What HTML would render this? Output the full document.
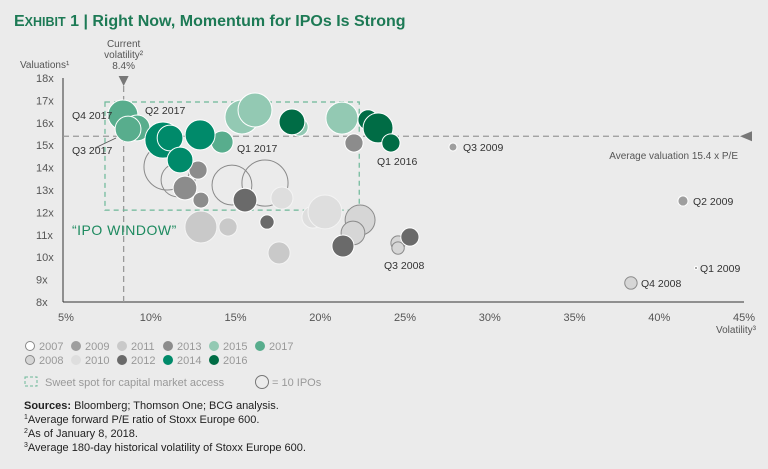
<!DOCTYPE html>
<html><head><meta charset="utf-8">
<style>
html,body{margin:0;padding:0;background:#ebebeb;}
body{width:768px;height:464px;overflow:hidden;position:relative;font-family:"Liberation Sans",sans-serif;}
svg text{font-family:"Liberation Sans",sans-serif;}
</style></head>
<body>
<svg id="chart" width="768" height="464" viewBox="0 0 768 464" xmlns="http://www.w3.org/2000/svg">
<text x="14" y="26" font-size="16" font-weight="bold" fill="#1d7a55">E<tspan font-size="12.5">XHIBIT</tspan> 1 | Right Now, Momentum for IPOs Is Strong</text>
<g id="axes"></g>
<g id="marks"></g>
<g id="labels"></g>
<g id="legend"></g>
<g font-size="11" fill="#222">
<text x="24" y="409"><tspan font-weight="bold">Sources:</tspan> Bloomberg; Thomson One; BCG analysis.</text>
<text x="24" y="423"><tspan font-size="7" dy="-4">1</tspan><tspan dy="4">Average forward P/E ratio of Stoxx Europe 600.</tspan></text>
<text x="24" y="437"><tspan font-size="7" dy="-4">2</tspan><tspan dy="4">As of January 8, 2018.</tspan></text>
<text x="24" y="451"><tspan font-size="7" dy="-4">3</tspan><tspan dy="4">Average 180-day historical volatility of Stoxx Europe 600.</tspan></text>
</g>
</svg>
<script>
const xTicks=[5,10,15,20,25,30,35,40,45];
const yTicks=[8,9,10,11,12,13,14,15,16,17,18];
const bubbleYears=[2007,2007,2007,2007,2008,2008,2008,2008,2008,2010,2010,2010,2011,2011,2011,2012,2012,2012,2012,2012,2013,2013,2013,2013,2013,2013,2009,2009,2009,2015,2015,2015,2015,2016,2016,2016,2016,2016,2017,2017,2017,2017,2014,2014,2014,2014];
const bubbleX=[10.96,11.61,14.79,16.74,22.35,21.93,24.59,38.33,24.59,17.74,19.57,20.28,12.96,14.56,17.57,15.56,16.86,21.34,25.29,15.56,12.73,12.79,12.02,12.96,21.99,12.73,27.83,41.40,42.17,15.38,16.15,18.75,21.28,18.33,22.82,23.41,24.17,18.33,8.36,9.19,8.66,14.21,10.72,11.14,11.73,12.91];
const bubbleY=[14.03,13.45,13.22,13.31,11.66,11.08,10.63,8.85,10.41,12.64,11.79,12.02,11.35,11.35,10.19,12.55,11.57,10.50,10.90,12.55,15.46,13.89,13.09,12.55,15.10,15.46,14.92,12.51,9.52,16.26,16.57,15.81,16.21,16.04,16.13,15.77,15.10,16.04,16.35,15.77,15.72,15.14,15.23,15.32,14.34,15.46];
const bubbleIPOs=[83,45,62,83,35,22,8,6,6,19,19,45,40,13,19,22,8,19,13,22,16,13,22,10,13,16,2.5,4,0.4,45,45,13,40,26,16,35,13,26,35,26,26,19,51,26,26,35];
const yearColors={2007:['none','#8a8a8a'],2008:['#d6d6d6','#8a8a8a'],2009:['#9e9e9e','#fff'],2010:['#dedede','#f4f4f4'],2011:['#c9c9c9','#f4f4f4'],2012:['#6a6a6a','#fff'],2013:['#8c8c8c','#fff'],2014:['#008a6a','#fff'],2015:['#93c9b3','#fff'],2016:['#006c45','#fff'],2017:['#58ad8d','#fff']};
const avgVal=15.4, curVol=8.4, sweet={x0:7.3,x1:22.3,y0:12.1,y1:16.93};
const NS='http://www.w3.org/2000/svg';
const xS=v=>66+(v-5)*(744-66)/40;
const yS=v=>302-(v-8)*(302-78)/10;
const rS=n=>8*Math.sqrt(n/10);
function mk(tag,attrs,parent,txt){const e=document.createElementNS(NS,tag);for(const k in attrs)e.setAttribute(k,attrs[k]);if(txt!==undefined)e.textContent=txt;parent.appendChild(e);return e;}
const axes=document.getElementById('axes');
let e;
e=mk('line',{x1:63,y1:xS(0)*0+78,x2:63,y2:302,stroke:'#333','stroke-width':1},axes);


e=mk('line',{x1:63,y1:302,x2:744,y2:302,stroke:'#333','stroke-width':1},axes);


xTicks.forEach(t=>{e=mk('text',{x:xS(t),y:321,'font-size':11,fill:'#555','text-anchor':'middle'},axes,t+'%');

});
yTicks.forEach(t=>{e=mk('text',{x:36,y:yS(t)+4,'font-size':11,fill:'#555'},axes,t+'x');

});
e=mk('text',{x:20,y:68,'font-size':10,fill:'#555'},axes,'Valuations¹');


e=mk('text',{x:756,y:333,'font-size':10,fill:'#555','text-anchor':'end'},axes,'Volatility³');


// reference lines
e=mk('line',{x1:63,y1:yS(avgVal),x2:742,y2:yS(avgVal),stroke:'#999','stroke-width':1.3,'stroke-dasharray':'6,4'},axes);


e=mk('polygon',{points:`740,${yS(avgVal)} 752,${yS(avgVal)-5} 752,${yS(avgVal)+5}`,fill:'#777'},axes);


e=mk('line',{x1:xS(curVol),y1:86,x2:xS(curVol),y2:302,stroke:'#999','stroke-width':1.3,'stroke-dasharray':'6,4'},axes);


e=mk('polygon',{points:`${xS(curVol)-5},76 ${xS(curVol)+5},76 ${xS(curVol)},86`,fill:'#777'},axes);


[['Current',47],['volatility²',58],['8.4%',69]].forEach(a=>{e=mk('text',{x:xS(curVol),y:a[1],'font-size':10,fill:'#555','text-anchor':'middle'},axes,a[0]);

});
e=mk('rect',{x:xS(sweet.x0),y:yS(sweet.y1),width:xS(sweet.x1)-xS(sweet.x0),height:yS(sweet.y0)-yS(sweet.y1),fill:'none',stroke:'#6cb898','stroke-width':1.2,'stroke-dasharray':'5,4'},axes);


// bubbles
const marks=document.getElementById('marks');
bubbleX.forEach((x,i)=>{const c=yearColors[bubbleYears[i]];
e=mk('circle',{cx:xS(x),cy:yS(bubbleY[i]),r:rS(bubbleIPOs[i]),fill:c[0],stroke:c[1],'stroke-width':1},marks);

});
// labels
const labels=document.getElementById('labels');
const ann=[['Q4 2017',72,119],['Q2 2017',145,114],['Q3 2017',72,154],['Q1 2017',237,152],['Q1 2016',377,165],['Q3 2009',463,151],['Q2 2009',693,205],['Q1 2009',700,272],['Q4 2008',641,287],['Q3 2008',384,269]];
ann.forEach(a=>{e=mk('text',{x:a[1],y:a[2],'font-size':10.5,fill:'#333'},labels,a[0]);

});
e=mk('line',{x1:95,y1:148,x2:116,y2:138,stroke:'#555','stroke-width':0.8},labels);


e=mk('text',{x:738,y:159,'font-size':10,fill:'#555','text-anchor':'end'},labels,'Average valuation 15.4 x P/E');


e=mk('text',{x:72,y:235,'font-size':14,fill:'#1d8a5f','letter-spacing':'0.5'},labels,'“IPO WINDOW”');


// legend
const legend=document.getElementById('legend');
const legRows=[[2007,2009,2011,2013,2015,2017],[2008,2010,2012,2014,2016]];
legRows.forEach((row,ri)=>row.forEach((yr,ci)=>{const c=yearColors[yr];const lx=30+ci*46,ly=346+ri*14;
e=mk('circle',{cx:lx,cy:ly,r:4.5,fill:c[0]==='none'?'#fff':c[0],stroke:(yr<=2008)?'#888':c[0],'stroke-width':1},legend);


e=mk('text',{x:lx+9,y:ly+4,'font-size':11,fill:'#999'},legend,String(yr));

}));
e=mk('rect',{x:25,y:377,width:12,height:9,fill:'none',stroke:'#6cb898','stroke-dasharray':'3,2'},legend);


e=mk('text',{x:45,y:386,'font-size':11,fill:'#999'},legend,'Sweet spot for capital market access');


e=mk('circle',{cx:262,cy:382,r:6.5,fill:'none',stroke:'#777'},legend);


e=mk('text',{x:272,y:386,'font-size':11,fill:'#999'},legend,'= 10 IPOs');


</script>
</body></html>
